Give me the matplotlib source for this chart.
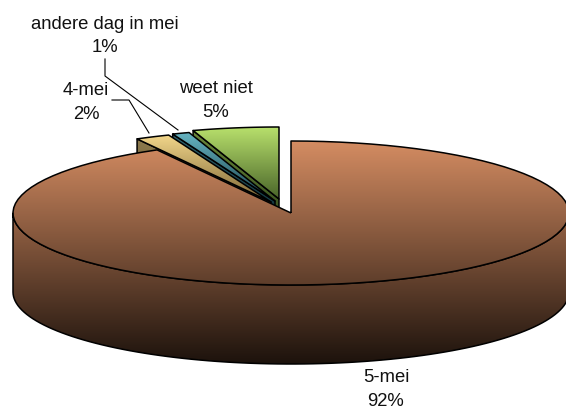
import numpy as np
import matplotlib
matplotlib.use("Agg")
import matplotlib.pyplot as plt
from matplotlib.colors import LinearSegmentedColormap
from matplotlib.patches import Polygon

plt.rcParams["font.family"] = ["Liberation Sans", "DejaVu Sans"]

# --------------------------------------------------
# Data (clockwise from 12 o'clock)
# --------------------------------------------------
labels = ["5-mei", "4-mei", "andere dag in mei", "weet niet"]
values = [92, 2, 1, 5]
percent_labels = ["92%", "2%", "1%", "5%"]

top_colors = ["#D48C62", "#F2D68A", "#66B4C2", "#B8E06C"]
bottom_colors = ["#1C120C", "#6A5428", "#12343C", "#3A5420"]
face_colors = ["#5A3A28", "#8E7C50", "#2F6672", "#6E8A3C"]

# apex of every slice in pixels, the small ones are pulled out
apex_x = [291, 271, 275, 279]
apex_y = [214, 203, 202, 200]

RX = 278
RY = 72
DEPTH = 79


def arc(cx, cy, a0, a1, n=100):
    t = np.radians(np.linspace(a0, a1, n))
    return np.column_stack([cx + RX * np.sin(t), cy - RY * np.cos(t)])


def fill_gradient(ax, points, c_top, c_bottom, y0, y1, z):
    # gradient image clipped to a polygon
    cmap = LinearSegmentedColormap.from_list("g", [c_top, c_bottom])
    patch = Polygon(points, closed=True, facecolor="none", edgecolor="none", zorder=z)
    ax.add_patch(patch)
    im = ax.imshow(np.linspace(0, 1, 256).reshape(-1, 1), cmap=cmap, aspect="auto",
                   extent=[0, 566, y1, y0], zorder=z, interpolation="bilinear")
    im.set_clip_path(patch)


def outline(ax, points, z, lw=1.1):
    ax.add_patch(Polygon(points, closed=True, facecolor="none", edgecolor="black",
                         linewidth=lw, joinstyle="round", zorder=z))


def draw_slice(ax, i, a0, a1, z):
    cx, cy = apex_x[i], apex_y[i]
    rim = arc(cx, cy, a0, a1)
    top = np.vstack([[cx, cy], rim])
    y0 = rim[:, 1].min()
    if i == 0:
        # big slice: gradient runs over the whole height of the pie
        y1 = y0 + 2 * RY + DEPTH
        front = arc(cx, cy, 90, 270)
        wall = np.vstack([front, front[::-1] + [0, DEPTH]])
        fill_gradient(ax, wall, top_colors[i], bottom_colors[i], y0, y1, z)
        outline(ax, wall, z + 0.1)
        fill_gradient(ax, top, top_colors[i], bottom_colors[i], y0, y1, z + 0.2)
        outline(ax, top, z + 0.3)
    else:
        # cut face on the viewer side first, the top goes over it
        y1 = cy + 10
        edge = rim[0]
        face = np.array([[cx, cy], edge, edge + [0, DEPTH], [cx, cy + DEPTH]])
        fill_gradient(ax, face, face_colors[i], bottom_colors[i], y0, y1, z)
        outline(ax, face, z + 0.1)
        fill_gradient(ax, top, top_colors[i], bottom_colors[i], y0, y1, z + 0.2)
        outline(ax, top, z + 0.3)


fig = plt.figure(figsize=(5.66, 4.10), dpi=100)
ax = fig.add_axes([0, 0, 1, 1])

# --------------------------------------------------
# Slices, back ones first
# --------------------------------------------------
fractions = np.array(values) / sum(values) * 360
ends = np.cumsum(fractions)
starts = ends - fractions
for z, i in zip([2, 3, 4, 6], [3, 2, 1, 0]):
    draw_slice(ax, i, starts[i], ends[i], z)

# --------------------------------------------------
# Labels and leader lines
# --------------------------------------------------
ax.plot([105, 105, 178], [60, 77, 131], color="black", lw=0.8, zorder=9)
ax.plot([112, 129, 149], [101, 101, 134], color="black", lw=0.8, zorder=9)

label_x = [386, 86, 105, 216]
label_y = [389.5, 102.5, 36, 100.5]
for i in range(4):
    ax.text(label_x[i], label_y[i], labels[i] + "\n" + percent_labels[i], ha="center",
            va="center", fontsize=13.3, linespacing=1.5, color="#111111", zorder=10)

ax.set_xlim(0, 566)
ax.set_ylim(410, 0)
ax.axis("off")

fig.savefig("out.png", dpi=100)
